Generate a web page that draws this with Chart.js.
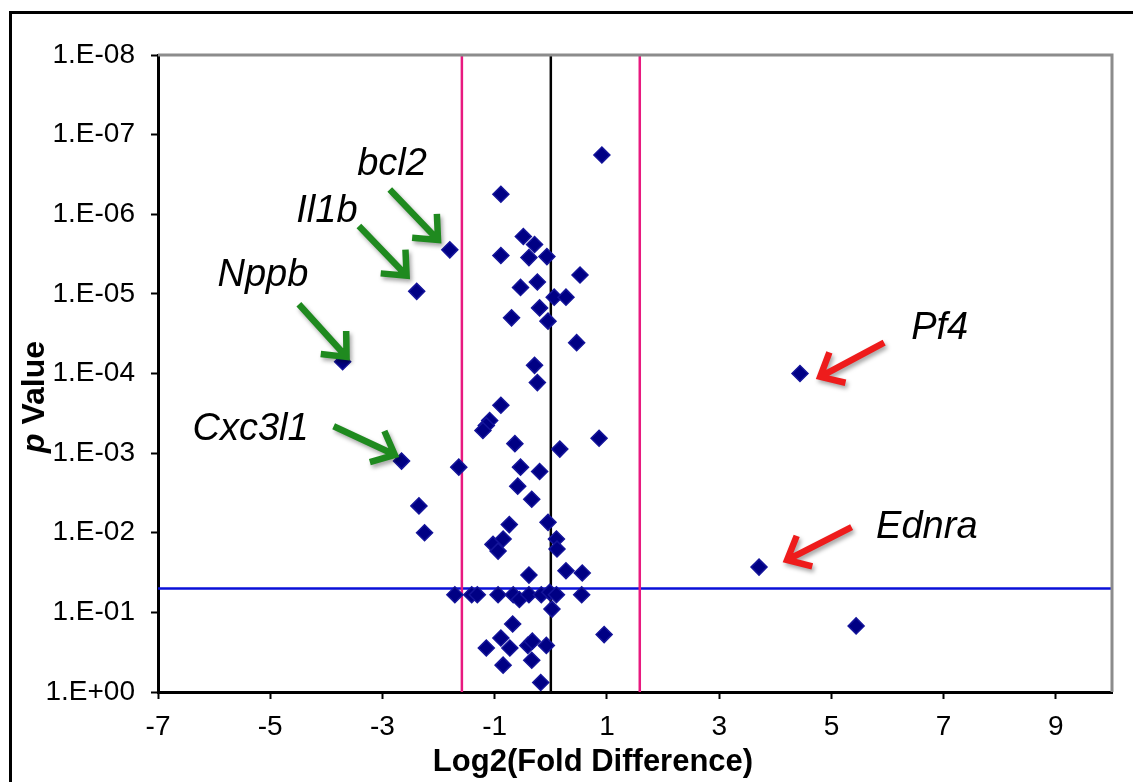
<!DOCTYPE html>
<html>
<head>
<meta charset="utf-8">
<script src="https://cdn.jsdelivr.net/npm/chart.js@4"></script>
<style>
  html, body { margin: 0; padding: 0; background: #fff; }
  #wrap { width: 1133px; height: 782px; }
</style>
</head>
<body>
<div id="wrap"><canvas id="volcano" width="1133" height="782"></canvas></div>
<script>
// log2 fold difference and p value for each gene
const foldChange = [
  0.91, -0.89, -1.80, -0.49, -0.29, -0.89, -0.39, -0.07, 0.52, -0.24,
  -0.54, 0.06, 0.27, -0.20, -0.70, -0.05, 0.46, -0.29, -0.24, -0.89,
  -1.09, -1.15, -1.21, -0.64, 0.16, 0.86, -1.64, -0.54, -0.20, -0.59,
  -0.34, -0.74, -0.05, -1.03, -0.85, -0.94, 0.10, 0.11, -0.39, 0.27,
  0.56, -1.71, -1.41, -1.31, -0.94, -0.67, -0.56, -0.39, -0.17, -0.02,
  0.10, 0.55, 0.02, -0.68, 0.95, -0.89, -1.15, -0.73, -0.41, -0.33,
  -0.08, -0.34, -0.85, -0.18, -3.71, -2.39, -2.66, -2.35, -2.25, 4.44,
  3.71, 5.44
];
const pValues = [
  1.8e-7, 5.6e-7, 2.8e-6, 1.9e-6, 2.4e-6, 3.3e-6, 3.5e-6, 3.4e-6, 5.8e-6, 7.1e-6,
  8.3e-6, 1.1e-5, 1.1e-5, 1.5e-5, 2.0e-5, 2.2e-5, 4.1e-5, 7.9e-5, 1.3e-4, 2.5e-4,
  3.9e-4, 4.5e-4, 5.2e-4, 7.6e-4, 8.9e-4, 6.5e-4, 1.5e-3, 1.5e-3, 1.7e-3, 2.6e-3,
  3.8e-3, 7.9e-3, 7.4e-3, 1.4e-2, 1.2e-2, 1.7e-2, 1.2e-2, 1.6e-2, 3.4e-2, 3.0e-2,
  3.2e-2, 6.0e-2, 6.0e-2, 6.0e-2, 6.0e-2, 6.0e-2, 6.9e-2, 6.0e-2, 6.0e-2, 5.6e-2,
  6.0e-2, 6.0e-2, 9.1e-2, 0.14, 0.19, 0.21, 0.28, 0.28, 0.26, 0.23,
  0.26, 0.40, 0.46, 0.76, 7.1e-5, 9.3e-6, 1.26e-3, 4.6e-3, 1.0e-2, 1.0e-4,
  2.7e-2, 0.148
];

const xTicks = [-7, -5, -3, -1, 1, 3, 5, 7, 9];
const yTicks = [1e-8, 1e-7, 1e-6, 1e-5, 1e-4, 1e-3, 1e-2, 1e-1, 1];

// cut-offs
const foldCut = 1.585;
const pCut = 0.05;

// labelled genes: text position, arrow tail and arrow head in data units
const labelNames = ['bcl2', 'Il1b', 'Nppb', 'Cxc3l1', 'Pf4', 'Ednra'];
const labelX = [-2.83, -3.99, -5.13, -5.35, 6.93, 6.70];
const labelP = [3.2e-7, 1.26e-6, 7.9e-6, 6.8e-4, 3.7e-5, 1.17e-2];
const tailX = [-2.87, -3.42, -4.49, -3.87, 5.94, 5.36];
const tailP = [4.9e-7, 1.4e-6, 1.35e-5, 4.6e-4, 4.1e-5, 8.5e-3];
const headX = [-2.01, -2.57, -3.64, -2.78, 4.80, 4.21];
const headP = [2.1e-6, 5.9e-6, 6.2e-5, 1.05e-3, 1.1e-4, 2.2e-2];
const arrowColors = ['#1f8a1f', '#1f8a1f', '#1f8a1f', '#1f8a1f', '#ee1c1c', '#ee1c1c'];

const FONT = '"Liberation Sans", Arial, Helvetica, sans-serif';

function fmtP(v) {
  const e = Math.round(Math.log10(v));
  const sign = e < 0 ? '-' : '+';
  return '1.E' + sign + String(Math.abs(e)).padStart(2, '0');
}

function drawArrow(ctx, x1, y1, x2, y2, color) {
  const ang = Math.atan2(y2 - y1, x2 - x1);
  const head = 26;
  const spread = 0.72;
  ctx.save();
  ctx.strokeStyle = color;
  ctx.lineWidth = 6.5;
  ctx.lineJoin = 'miter';
  ctx.shadowColor = 'rgba(0,0,0,0.35)';
  ctx.shadowBlur = 4;
  ctx.shadowOffsetX = 2;
  ctx.shadowOffsetY = 3;
  ctx.beginPath();
  ctx.moveTo(x1, y1);
  ctx.lineTo(x2 - Math.cos(ang) * 3, y2 - Math.sin(ang) * 3);
  ctx.moveTo(x2 - head * Math.cos(ang - spread), y2 - head * Math.sin(ang - spread));
  ctx.lineTo(x2, y2);
  ctx.lineTo(x2 - head * Math.cos(ang + spread), y2 - head * Math.sin(ang + spread));
  ctx.stroke();
  ctx.restore();
}

const decorPlugin = {
  id: 'decor',
  beforeDraw(chart) {
    const ctx = chart.ctx;
    ctx.save();
    ctx.fillStyle = '#fff';
    ctx.fillRect(0, 0, chart.width, chart.height);
    ctx.strokeStyle = '#000';
    ctx.lineWidth = 3;
    ctx.strokeRect(10.5, 12.5, chart.width + 40, chart.height + 40);
    ctx.restore();
  },
  afterDraw(chart) {
    const ctx = chart.ctx;
    const xs = chart.scales.x;
    const ys = chart.scales.y;
    const area = chart.chartArea;

    // grey frame on top and right of the plot area
    ctx.save();
    ctx.strokeStyle = '#8c8c8c';
    ctx.lineWidth = 3;
    ctx.beginPath();
    ctx.moveTo(area.left, area.top);
    ctx.lineTo(area.right, area.top);
    ctx.lineTo(area.right, area.bottom);
    ctx.stroke();
    ctx.restore();

    // arrows and gene names
    for (let i = 0; i < labelNames.length; i++) {
      drawArrow(ctx,
        xs.getPixelForValue(tailX[i]), ys.getPixelForValue(tailP[i]),
        xs.getPixelForValue(headX[i]), ys.getPixelForValue(headP[i]),
        arrowColors[i]);
      ctx.save();
      ctx.fillStyle = '#000';
      ctx.font = 'italic 38px ' + FONT;
      ctx.textAlign = 'center';
      ctx.textBaseline = 'alphabetic';
      ctx.fillText(labelNames[i], xs.getPixelForValue(labelX[i]), ys.getPixelForValue(labelP[i]));
      ctx.restore();
    }

    // axis titles
    ctx.save();
    ctx.fillStyle = '#000';
    ctx.font = 'bold 31px ' + FONT;
    ctx.textAlign = 'center';
    ctx.textBaseline = 'middle';
    ctx.fillText('Log2(Fold Difference)', 593, 762);
    ctx.restore();

    ctx.save();
    ctx.translate(35, 397);
    ctx.rotate(-Math.PI / 2);
    ctx.fillStyle = '#000';
    ctx.textBaseline = 'middle';
    ctx.font = 'italic bold 32px ' + FONT;
    const wP = ctx.measureText('p').width;
    ctx.font = 'bold 32px ' + FONT;
    const wV = ctx.measureText(' Value').width;
    const start = -(wP + wV) / 2;
    ctx.font = 'italic bold 32px ' + FONT;
    ctx.textAlign = 'left';
    ctx.fillText('p', start, 0);
    ctx.font = 'bold 32px ' + FONT;
    ctx.fillText(' Value', start + wP, 0);
    ctx.restore();
  }
};

const points = foldChange.map((x, i) => ({ x: x, y: pValues[i] }));

new Chart(document.getElementById('volcano'), {
  type: 'scatter',
  data: {
    datasets: [
      {
        label: 'genes',
        data: points,
        pointStyle: 'rectRot',
        pointRadius: 8,
        borderWidth: 1.5,
        backgroundColor: '#000084',
        borderColor: '#14149a'
      },
      {
        label: 'zero',
        type: 'line',
        data: [{ x: 0, y: 1e-8 }, { x: 0, y: 1 }],
        borderColor: '#000',
        borderWidth: 2.5,
        pointRadius: 0
      },
      {
        label: 'down cut',
        type: 'line',
        data: [{ x: -foldCut, y: 1e-8 }, { x: -foldCut, y: 1 }],
        borderColor: '#e8197f',
        borderWidth: 2.5,
        pointRadius: 0
      },
      {
        label: 'up cut',
        type: 'line',
        data: [{ x: foldCut, y: 1e-8 }, { x: foldCut, y: 1 }],
        borderColor: '#e8197f',
        borderWidth: 2.5,
        pointRadius: 0
      },
      {
        label: 'p cut',
        type: 'line',
        data: [{ x: -7, y: pCut }, { x: 10, y: pCut }],
        borderColor: '#0a10d8',
        borderWidth: 2.5,
        pointRadius: 0
      }
    ]
  },
  options: {
    responsive: false,
    animation: false,
    layout: { padding: { left: 0, top: 55, right: 21, bottom: 0 } },
    plugins: {
      legend: { display: false },
      tooltip: { enabled: false }
    },
    scales: {
      x: {
        type: 'linear',
        min: -7,
        max: 10,
        afterBuildTicks: (scale) => { scale.ticks = xTicks.map(v => ({ value: v })); },
        afterFit: (scale) => { scale.height = 90; },
        grid: { drawOnChartArea: false, tickLength: 7, tickColor: '#000', tickWidth: 2 },
        border: { display: true, color: '#000', width: 3 },
        ticks: {
          color: '#000',
          padding: 11,
          maxRotation: 0,
          font: { family: FONT, size: 28 }
        }
      },
      y: {
        type: 'logarithmic',
        reverse: true,
        min: 1e-8,
        max: 1,
        afterBuildTicks: (scale) => { scale.ticks = yTicks.map(v => ({ value: v })); },
        afterFit: (scale) => { scale.width = 158; },
        grid: { drawOnChartArea: false, tickLength: 7, tickColor: '#000', tickWidth: 2 },
        border: { display: true, color: '#000', width: 3 },
        ticks: {
          color: '#000',
          padding: 16,
          font: { family: FONT, size: 28 },
          callback: (v) => fmtP(v)
        }
      }
    }
  },
  plugins: [decorPlugin]
});
</script>
</body>
</html>
